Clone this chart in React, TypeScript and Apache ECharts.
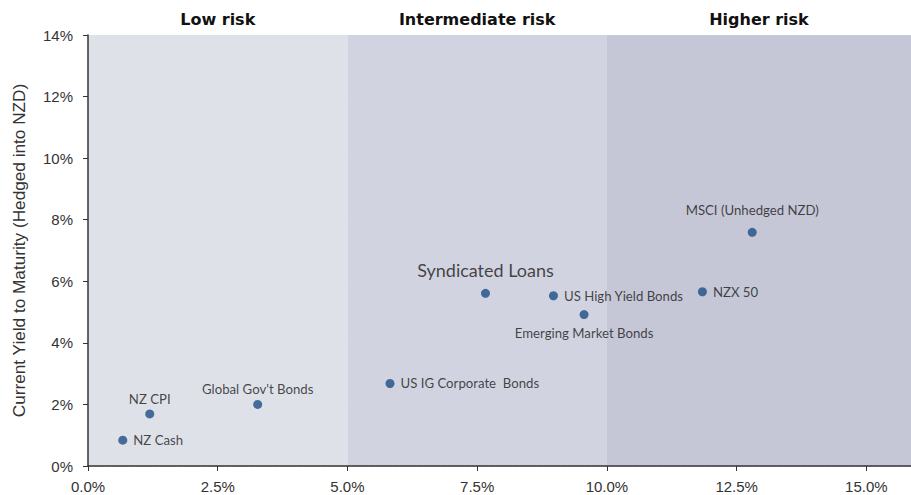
import React, { useEffect, useRef } from "react";
import * as echarts from "echarts";

const names = [
  "NZ Cash",
  "NZ CPI",
  "Global Gov't Bonds",
  "US IG Corporate  Bonds",
  "Syndicated Loans",
  "US High Yield Bonds",
  "Emerging Market Bonds",
  "NZX 50",
  "MSCI (Unhedged NZD)",
];
const riskX = [0.67, 1.19, 3.27, 5.82, 7.66, 8.97, 9.56, 11.84, 12.8];
const yieldY = [0.84, 1.69, 2.0, 2.68, 5.61, 5.53, 4.92, 5.66, 7.59];
const labelPos = ["right", "top", "top", "right", "top", "right", "bottom", "right", "top"];
const labelGap = [6, 4, 4, 6, 10, 6, 7, 6, 11];

const bandNames = ["Low risk", "Intermediate risk", "Higher risk"];
const bandStarts = [0, 5, 10];
const bandEnds = [5, 10, 15.86];
const bandColors = ["#DFE1E8", "#D1D4E0", "#C5C7D6"];

const xTicks = [0, 2.5, 5, 7.5, 10, 12.5, 15];

export default function App() {
  const ref = useRef<HTMLDivElement>(null);
  useEffect(() => {
    if (!ref.current) return;
    const chart = echarts.init(ref.current, null, { renderer: "svg" });
    const data = names.map((n, i) => {
      const big = n === "Syndicated Loans";
      return {
        name: n,
        value: [riskX[i], yieldY[i]],
        label: {
          show: true,
          position: labelPos[i],
          formatter: n,
          fontFamily: "Lato, 'Open Sans', sans-serif",
          fontSize: big ? 18 : 13.2,
          color: "#1a1a1a",
          distance: labelGap[i],
        },
      };
    });
    chart.setOption({
      animation: false,
      grid: { left: 88, top: 35, right: 0, bottom: 29, containLabel: false },
      xAxis: {
        type: "value",
        min: 0,
        max: 15.86,
        interval: 2.5,
        axisLine: { show: true, lineStyle: { color: "#333", width: 1.5 } },
        axisTick: { show: true, length: 5, inside: false, customValues: xTicks, lineStyle: { color: "#333" } },
        axisLabel: {
          customValues: xTicks,
          formatter: (v: number) => v.toFixed(1) + "%",
          fontFamily: "Liberation Sans, Arial, sans-serif",
          fontSize: 15,
          color: "#333",
          margin: 13,
        },
        splitLine: { show: false },
      },
      yAxis: {
        type: "value",
        min: 0,
        max: 14,
        interval: 2,
        name: "Current Yield to Maturity (Hedged into NZD)",
        nameLocation: "middle",
        nameGap: 61,
        nameTextStyle: {
          fontFamily: "Liberation Sans, Arial, sans-serif",
          fontSize: 17.2,
          color: "#333",
        },
        axisLine: { show: true, lineStyle: { color: "#333", width: 1.5 } },
        axisTick: { show: true, length: 5, lineStyle: { color: "#333" } },
        axisLabel: {
          formatter: (v: number) => v + "%",
          fontFamily: "Liberation Sans, Arial, sans-serif",
          fontSize: 15,
          color: "#333",
          margin: 15,
        },
        splitLine: { show: true, lineStyle: { color: "#E9E6E0", type: "dashed", width: 1 } },
      },
      series: [
        {
          type: "scatter",
          symbol: "circle",
          symbolSize: 9,
          itemStyle: { color: "#1D4E85" },
          data,
          z: 3,
          markArea: {
            silent: true,
            z: 0,
            data: bandNames.map((b, i) => [
              {
                name: b,
                xAxis: bandStarts[i],
                yAxis: 0,
                itemStyle: { color: bandColors[i] },
                label: {
                  show: true,
                  position: "top",
                  distance: 8,
                  formatter: b,
                  fontFamily: "'DejaVu Sans', Verdana, sans-serif",
                  fontWeight: "bold",
                  fontSize: 16,
                  color: "#111",
                },
              },
              { xAxis: bandEnds[i], yAxis: 14 },
            ]),
          },
        },
      ],
    });
    return () => chart.dispose();
  }, []);
  return <div ref={ref} style={{ width: 911, height: 495, position: "absolute", left: 0, top: 0 }} />;
}
